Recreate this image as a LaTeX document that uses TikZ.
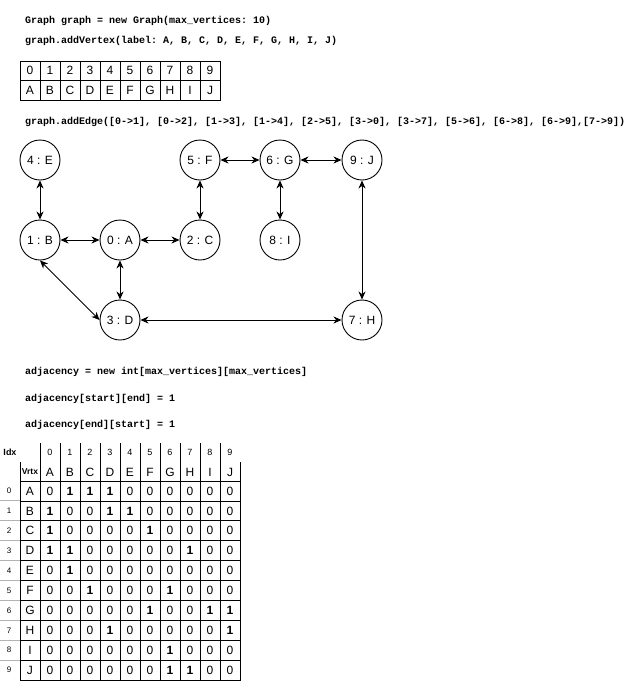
\documentclass[tikz,border=0pt]{standalone}
\usepackage{fontspec}
\setmainfont{Liberation Sans}
\setmonofont{Liberation Mono}
\usetikzlibrary{arrows.meta,positioning}
\tikzset{
    vertex/.style={
    circle,draw=black,line width=0.9pt,minimum size=40pt,inner sep=0pt,font=\fontsize{12}{14}\selectfont
    },
    link/.style={
    <->,line width=0.9pt
    },
    code/.style={
    anchor=base west,inner sep=0pt,font=\ttfamily\bfseries\fontsize{10}{12}\selectfont
    },
    arrcell/.style={
    rectangle,draw=black,line width=0.9pt,minimum width=20pt,minimum height=19.5pt,inner sep=0pt,font=\fontsize{12}{14}\selectfont
    },
    matcell/.style={
    rectangle,draw=black,line width=0.9pt,minimum width=20pt,minimum height=19.9pt,inner sep=0pt,font=\fontsize{12}{14}\selectfont
    },
    hdr/.style={
    inner sep=0pt,font=\fontsize{9}{10}\selectfont
    },
    idx/.style={
    inner sep=0pt,font=\fontsize{8}{9}\selectfont
    },
}

\begin{document}
\begin{tikzpicture}[x=1pt, y=-1pt, node distance=80pt, on grid,
    >={Stealth[length=8pt,width=7pt,inset=2.5pt]}]
  \useasboundingbox (0,0) rectangle (641,681);

  % code lines
  \node[code] (new)    at (25,23)  {Graph graph = new Graph(max\_vertices: 10)};
  \node[code] (addv)   at (25,43)  {graph.addVertex(label: A, B, C, D, E, F, G, H, I, J)};
  \node[code] (adde)   at (25,124) {graph.addEdge([0->1], [0->2], [1->3], [1->4], [2->5], [3->0], [3->7], [5->6], [6->8], [6->9],[7->9])};
  \node[code] (alloc)  at (25,374) {adjacency = new int[max\_vertices][max\_vertices]};
  \node[code] (setse)  at (25,401) {adjacency[start][end] = 1};
  \node[code] (setes)  at (25,427) {adjacency[end][start] = 1};

  % vertex array
  \foreach \l [count=\i from 0] in {A,B,C,D,E,F,G,H,I,J} {
    \node[arrcell] (key-\i) at (30+20*\i,70.75) {\i};
    \node[arrcell] (lab-\i) at (30+20*\i,90.25) {\l};
  }

  % graph
  \node[vertex] (A) at (120,240) {0 : A};
  \node[vertex] (B) [left=of A]  {1 : B};
  \node[vertex] (C) [right=of A] {2 : C};
  \node[vertex] (D) [below=of A] {3 : D};
  \node[vertex] (E) [above=of B] {4 : E};
  \node[vertex] (F) [above=of C] {5 : F};
  \node[vertex] (G) [right=of F] {6 : G};
  \node[vertex] (I) [below=of G] {8 : I};
  \node[vertex] (J) [right=82pt of G] {9 : J};
  \node[vertex] (H) at (J |- D) {7 : H};

  \path[link]
    (E) edge (B)
    (B) edge (A)
    (A) edge (C)
    (C) edge (F)
    (F) edge (G)
    (G) edge (J)
    (G) edge (I)
    (J) edge (H)
    (A) edge (D)
    (B.south) edge (D.west)
    (D) edge (H);

  % adjacency matrix
  \node[hdr,font=\bfseries\fontsize{9}{10}\selectfont] (idxhd) at (10,452) {Idx};
  \node[hdr,font=\bfseries\fontsize{8.5}{10}\selectfont] (vrtxhd) at (30,472) {Vrtx};
  \foreach \l [count=\i from 0] in {A,B,C,D,E,F,G,H,I,J} {
    \node[hdr] (colnum-\i) at (50+20*\i,452) {\i};
    \node[hdr,font=\fontsize{12}{14}\selectfont] (collab-\i) at (50+20*\i,472) {\l};
    \draw[line width=0.9pt] (40+20*\i,443) -- (40+20*\i,481);
  }
  \draw[line width=0.9pt] (20,462) -- (20,481);
  \draw[line width=0.9pt] (240,462) -- (240,481);
  \foreach \l/\vals [count=\r from 0] in {
      A/{0,1,1,1,0,0,0,0,0,0},
      B/{1,0,0,1,1,0,0,0,0,0},
      C/{1,0,0,0,0,1,0,0,0,0},
      D/{1,1,0,0,0,0,0,1,0,0},
      E/{0,1,0,0,0,0,0,0,0,0},
      F/{0,0,1,0,0,0,1,0,0,0},
      G/{0,0,0,0,0,1,0,0,1,1},
      H/{0,0,0,1,0,0,0,0,0,1},
      I/{0,0,0,0,0,0,1,0,0,0},
      J/{0,0,0,0,0,0,1,1,0,0}} {
    \node[idx] (rownum-\r) at (9,491+19.9*\r) {\r};
    \node[matcell] (rowlab-\r) at (30,491+19.9*\r) {\l};
    \foreach \v [count=\c from 0] in \vals {
      \node[matcell] (m-\r-\c) at (50+20*\c,491+19.9*\r) {\ifnum\v=1 \bfseries\fi\v};
    }
  }
  \foreach \r in {1,...,9} {
    \draw[gray!60,line width=0.9pt] (0,481+19.9*\r) -- (20,481+19.9*\r);
  }
\end{tikzpicture}
\end{document}
